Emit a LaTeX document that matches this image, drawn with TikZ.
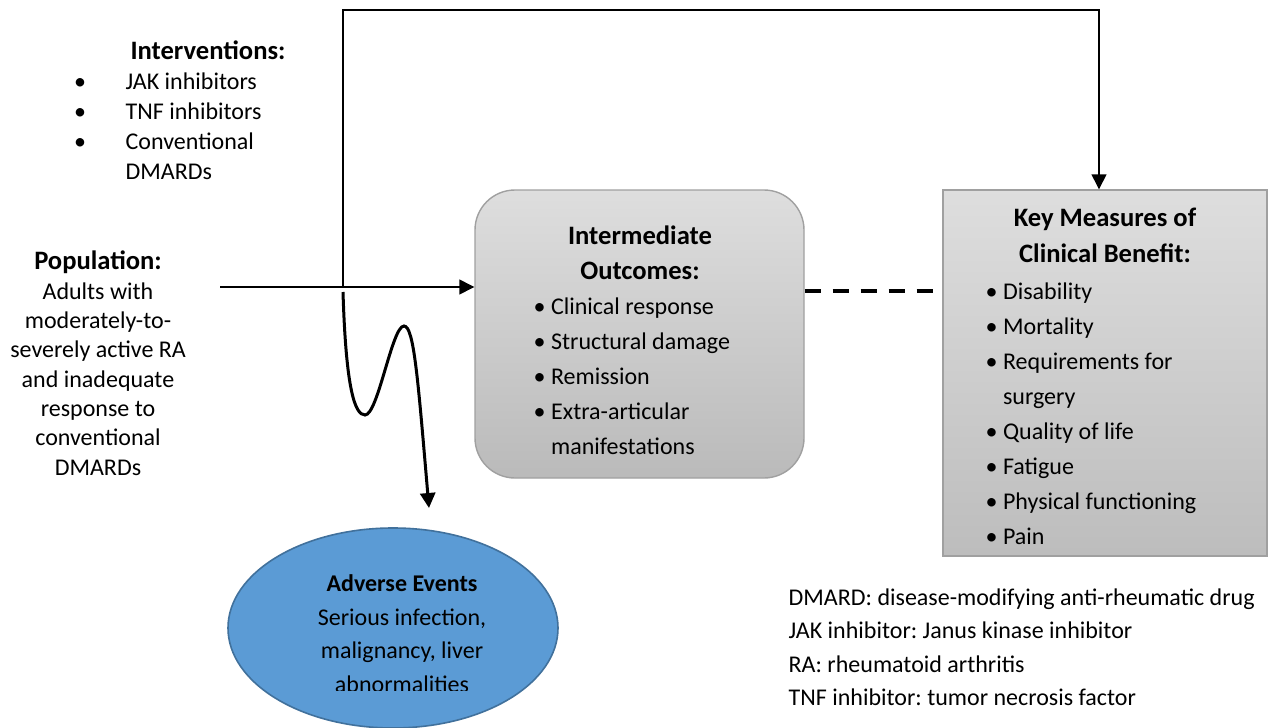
\documentclass[tikz,border=0pt]{standalone}
\usepackage{fontspec}
\setmainfont{Carlito}
\frenchspacing
\usetikzlibrary{arrows.meta, shapes.geometric}

\definecolor{aeblue}{HTML}{5B9BD5}
\definecolor{aeedge}{HTML}{41719C}
\definecolor{boxedge}{HTML}{A0A0A0}

\newcommand{\headfont}{\bfseries\fontsize{13.3}{17.5}\selectfont}

\begin{document}
\begin{tikzpicture}[
    x=0.5pt, y=-0.5pt,
    >={Triangle[width=7.5pt,length=7.5pt]},
    line width=0.7pt,
    txt/.style={inner sep=0pt, anchor=base},
    interbox/.style={draw=boxedge, rounded corners=20pt, top color=black!13, bottom color=black!27, minimum width=164.5pt, minimum height=144pt, inner sep=0pt},
    keybox/.style={draw=boxedge, top color=black!13, bottom color=black!26, minimum width=162pt, minimum height=183pt, inner sep=0pt},
    aebox/.style={ellipse, draw=aeedge, fill=aeblue, line width=0.8pt, minimum width=165pt, minimum height=100pt, inner sep=0pt},
    dashline/.style={line width=2pt, dash pattern=on 8pt off 6pt}
]
    \useasboundingbox[fill=white] (0,0) rectangle (1270,728);

    % Interventions (base = last line)
    \node[txt, font=\headfont] (intv_head) at (208,59) {Interventions:};
    \node[txt, align=center, font=\fontsize{12}{15}\selectfont] (intv_dots) at (80,149) {\textbullet\\\textbullet\\\textbullet};
    \node[txt, anchor=base west, align=left, font=\fontsize{12}{15}\selectfont] (intv_list) at (125,179) {JAK inhibitors\\TNF inhibitors\\Conventional\\DMARDs};

    % Population
    \node[txt, align=center, font=\fontsize{12}{14.65}\selectfont] (pop) at (98,475) {{\headfont Population:}\\Adults with\\moderately-to-\\severely active RA\\and inadequate\\response to\\conventional\\DMARDs};

    % Intermediate Outcomes
    \node[interbox] (inter) at (639.5,334) {};
    \node[txt, align=center, font=\headfont] (inter_head) at (640,279) {Intermediate\\Outcomes:};
    \node[txt, anchor=base west, align=left, font=\fontsize{12}{17.5}\selectfont] (inter_list) at (533,454) {\textbullet\ Clinical response\\\textbullet\ Structural damage\\\textbullet\ Remission\\\textbullet\ Extra-articular\\\phantom{\textbullet\ }manifestations};

    % Key Measures of Clinical Benefit
    \node[keybox] (key) at (1105,373) {};
    \node[txt, align=center, font=\bfseries\fontsize{13.3}{18}\selectfont] (key_head) at (1105,262) {Key Measures of\\Clinical Benefit:};
    \node[txt, anchor=base west, align=left, font=\fontsize{12}{17.5}\selectfont] (key_list) at (985,544) {\textbullet\ Disability\\\textbullet\ Mortality\\\textbullet\ Requirements for\\\phantom{\textbullet\ }surgery\\\textbullet\ Quality of life\\\textbullet\ Fatigue\\\textbullet\ Physical functioning\\\textbullet\ Pain};

    % Adverse Events
    \node[aebox] (ae) at (393,628) {};
    \begin{scope}
        \clip (240,560) rectangle (560,690);
        \node[txt, align=center, font=\fontsize{12}{16.7}\selectfont] (ae_text) at (402,692) {\textbf{Adverse Events}\\Serious infection,\\malignancy, liver\\abnormalities};
    \end{scope}

    % Abbreviations
    \node[txt, anchor=base west, align=left, font=\fontsize{12}{16.75}\selectfont] (legend) at (788,705.5) {DMARD: disease-modifying anti-rheumatic drug\\JAK inhibitor: Janus kinase inhibitor\\RA: rheumatoid arthritis\\TNF inhibitor: tumor necrosis factor};

    % Connectors
    \coordinate (pop_out) at (220,287);
    \coordinate (split) at (343,287);
    \coordinate (top_turn) at (1099,10);
    \coordinate (ae_tip) at (429,508);
    \coordinate (dash_y) at (870,291);

    \draw[->] (pop_out) -- (inter.west |- pop_out);
    \draw[->] (split) |- (top_turn) -- (key.north -| top_turn);
    \draw[->, line width=1.5pt] ([yshift=-2.5pt]split) .. controls (346,390) and (355,415) .. (365,415)
        .. controls (378,415) and (392,326) .. (404,326)
        .. controls (414,326) and (418,380) .. (ae_tip);
    \draw[dashline] (inter.east |- dash_y) -- (key.west |- dash_y);

\end{tikzpicture}
\end{document}
